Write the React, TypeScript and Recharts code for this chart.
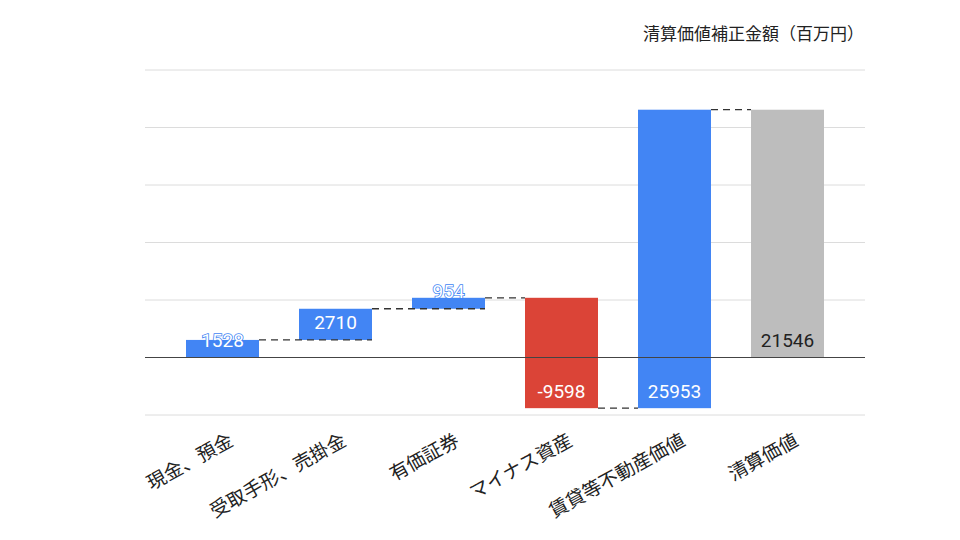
import React from 'react';
import { BarChart, Bar, XAxis, YAxis, CartesianGrid, ReferenceLine } from 'recharts';

const categories = ['現金、預金', '受取手形、売掛金', '有価証券', 'マイナス資産', '賃貸等不動産価値', '清算価値'];
const changes = [1528, 2710, 954, -9598, 25953];
const total = 21546;
const yTicks = [-5000, 0, 5000, 10000, 15000, 20000, 25000];

const COLORS = {
  up: '#4285f4',
  down: '#db4437',
  total: '#bdbdbd',
};

const WIDTH = 960;
const HEIGHT = 540;
const MARGIN = { top: 70, right: 95, left: 145, bottom: 0 };
const PAD = 21;
const BAR_SIZE = 73;
const BAND = (WIDTH - MARGIN.left - MARGIN.right - PAD * 2) / categories.length;
const GAP = BAND - BAR_SIZE;

// build waterfall rows: each bar is a [low, high] range
let running = 0;
const rows = categories.map((name, i) => {
  const prev = running;
  if (i < changes.length) {
    const value = changes[i];
    running += value;
    return {
      name,
      value,
      prev,
      range: [Math.min(prev, running), Math.max(prev, running)],
      kind: value >= 0 ? 'up' : 'down',
      idx: i,
    };
  }
  return { name, value: total, prev, range: [0, total], kind: 'total', idx: i };
});

function WaterfallBar(props: any) {
  const { x, y, width, height, payload } = props;
  const top = Math.min(y, y + height);
  const bot = Math.max(y, y + height);
  const color = COLORS[payload.kind as keyof typeof COLORS];
  const [lo, hi] = payload.range;

  let connector = null;
  if (payload.idx > 0) {
    const levelY = Math.abs(payload.prev - hi) < Math.abs(payload.prev - lo) ? top : bot;
    const across = payload.kind === 'up' && payload.prev > 0;
    connector = (
      <line
        x1={x - GAP}
        x2={across ? x + width : x}
        y1={levelY}
        y2={levelY}
        stroke="#333"
        strokeWidth={1.3}
        strokeDasharray="7 5"
      />
    );
  }

  const isTotal = payload.kind === 'total';
  return (
    <g>
      <rect x={x} y={top} width={width} height={bot - top} fill={color} />
      {connector}
      <text
        x={x + width / 2}
        y={bot - 17}
        textAnchor="middle"
        dominantBaseline="central"
        fontFamily="Roboto, sans-serif"
        fontSize={19}
        fill={isTotal ? '#222' : '#fff'}
        stroke={isTotal ? 'none' : color}
        strokeWidth={isTotal ? 0 : 1.6}
        paintOrder="stroke"
      >
        {payload.value}
      </text>
    </g>
  );
}

function SlantTick(props: any) {
  const { x, y, payload } = props;
  return (
    <g transform={`translate(${x + 8},${y + 14})`}>
      <text
        textAnchor="end"
        dominantBaseline="central"
        transform="rotate(-29)"
        fontFamily="'Noto Sans CJK JP', sans-serif"
        fontSize={19}
        fill="#222"
      >
        {payload.value}
      </text>
    </g>
  );
}

export default function App() {
  return (
    <div style={{ position: 'fixed', left: 0, top: 0, width: WIDTH, height: HEIGHT, background: '#fff' }}>
      <div
        style={{
          position: 'absolute',
          top: 22,
          right: 96,
          lineHeight: '22px',
          fontSize: 17,
          fontFamily: "'Noto Sans CJK JP', sans-serif",
          color: '#222',
        }}
      >
        清算価値補正金額（百万円）
      </div>
      <BarChart width={WIDTH} height={HEIGHT} data={rows} margin={MARGIN} barSize={BAR_SIZE}>
        <CartesianGrid vertical={false} stroke="#dcdcdc" />
        <XAxis
          dataKey="name"
          axisLine={false}
          tickLine={false}
          interval={0}
          height={125}
          padding={{ left: PAD, right: PAD }}
          tick={<SlantTick />}
        />
        <YAxis hide domain={[-5000, 25000]} ticks={yTicks} />
        <ReferenceLine y={0} stroke="#444" />
        <Bar dataKey="range" shape={<WaterfallBar />} isAnimationActive={false} />
      </BarChart>
    </div>
  );
}
